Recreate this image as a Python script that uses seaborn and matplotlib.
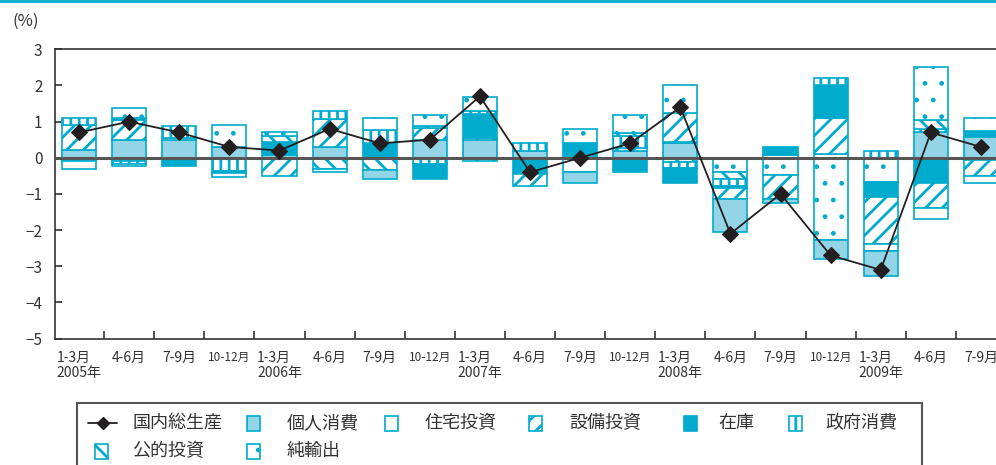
import numpy as np
import pandas as pd
import matplotlib
matplotlib.use("Agg")
import matplotlib.pyplot as plt
import seaborn as sns
from matplotlib.patches import Rectangle
from matplotlib.lines import Line2D

# ---------------- data ----------------
quarters = ["1-3月\n2005年", "4-6月", "7-9月", "10-12月",
            "1-3月\n2006年", "4-6月", "7-9月", "10-12月",
            "1-3月\n2007年", "4-6月", "7-9月", "10-12月",
            "1-3月\n2008年", "4-6月", "7-9月", "10-12月",
            "1-3月\n2009年", "4-6月", "7-9月"]

gdp = [0.7, 1.0, 0.7, 0.3, 0.2, 0.8, 0.4, 0.5, 1.7, -0.4,
       0.0, 0.4, 1.4, -2.1, -1.0, -2.7, -3.1, 0.7, 0.3]

kojin = [0.21, 0.49, 0.49, 0.29, 0.07, 0.30, -0.27, 0.49, 0.49, 0.20,
         -0.30, 0.19, 0.40, -0.91, -0.10, -0.52, -0.70, 0.72, 0.58]
jutaku = [-0.21, -0.06, 0.07, -0.11, 0.0, -0.10, 0.0, 0.0, 0.0, 0.0,
          -0.39, 0.0, 0.05, 0.0, 0.08, 0.10, -0.18, -0.30, -0.20]
setsubi = [0.69, 0.55, 0.0, 0.0, -0.50, 0.78, 0.0, 0.32, 0.07, -0.33,
           0.0, 0.08, 0.80, -0.30, -0.66, 0.99, -1.30, -0.69, -0.42]
zaiko = [0.0, 0.07, -0.22, -0.05, 0.37, 0.0, 0.42, -0.40, 0.65, -0.45,
         0.40, -0.40, -0.42, -0.06, 0.22, 0.92, -0.41, -0.71, 0.15]
seifu = [0.20, -0.08, 0.33, -0.36, 0.0, 0.20, 0.35, -0.18, 0.07, 0.20,
         0.0, 0.32, -0.15, -0.20, 0.0, 0.20, 0.20, 0.08, 0.0]
koteki = [-0.10, -0.08, 0.0, 0.0, 0.15, -0.30, -0.33, 0.08, -0.10, 0.0,
          0.0, 0.10, -0.12, -0.19, 0.0, 0.0, 0.0, 0.25, -0.07]
junyushutsu = [0.0, 0.28, 0.0, 0.62, 0.12, 0.0, 0.32, 0.30, 0.40, 0.0,
               0.40, 0.50, 0.75, -0.39, -0.48, -2.28, -0.68, 1.45, 0.38]

series_names = ["個人消費", "住宅投資", "設備投資", "在庫", "政府消費", "公的投資", "純輸出"]
series_values = [kojin, jutaku, setsubi, zaiko, seifu, koteki, junyushutsu]

# ---------------- style ----------------
CYAN = "#00ABCD"
LIGHT = "#93D5E7"
styles = {
    "個人消費": dict(facecolor=LIGHT, hatch=None),
    "住宅投資": dict(facecolor="white", hatch=None),
    "設備投資": dict(facecolor="white", hatch="//"),
    "在庫": dict(facecolor=CYAN, hatch=None),
    "政府消費": dict(facecolor="white", hatch="||"),
    "公的投資": dict(facecolor="white", hatch="\\\\"),
    "純輸出": dict(facecolor="white", hatch="."),
}
hatch_lw = {"純輸出": 1.0}

sns.set_theme(style="white")
plt.rcParams["font.family"] = ["Noto Sans CJK JP", "DejaVu Sans"]
plt.rcParams["hatch.linewidth"] = 2.0
plt.rcParams["hatch.color"] = CYAN
plt.rcParams["axes.unicode_minus"] = True


def set_hlw(artists, name):
    lw = hatch_lw.get(name, 2.0)
    for a in artists:
        if hasattr(a, "set_hatch_linewidth"):
            a.set_hatch_linewidth(lw)


fig = plt.figure(figsize=(9.96, 4.65), dpi=100)
ax = fig.add_axes([55 / 996, 1 - 338.6 / 465, (1006 - 55) / 996, (338.6 - 49.3) / 465])

df = pd.DataFrame({"pos": np.arange(len(quarters)), "label": quarters, "gdp": gdp})
for n, v in zip(series_names, series_values):
    df[n] = v

x = df["pos"].to_numpy(dtype=float)
width = 0.68

# positive stacking in series order
bottom = np.zeros(len(x))
for n in series_names:
    v = np.clip(df[n].to_numpy(), 0, None)
    m = v > 0
    with plt.rc_context({"hatch.linewidth": hatch_lw.get(n, 2.0)}):
        bars = ax.bar(x[m], v[m], width=width, bottom=bottom[m], edgecolor=CYAN,
                      linewidth=1.2, zorder=2, **styles[n])
    set_hlw(bars, n)
    bottom += v
# negative stacking in reverse series order
bottom = np.zeros(len(x))
for n in reversed(series_names):
    v = np.clip(df[n].to_numpy(), None, 0)
    m = v < 0
    with plt.rc_context({"hatch.linewidth": hatch_lw.get(n, 2.0)}):
        bars = ax.bar(x[m], v[m], width=width, bottom=bottom[m], edgecolor=CYAN,
                      linewidth=1.2, zorder=2, **styles[n])
    set_hlw(bars, n)
    bottom += v

ax.axhline(0, color="#555555", lw=2.2, zorder=3)

sns.lineplot(data=df, x="pos", y="gdp", ax=ax, color="#231F20", lw=1.3,
             marker="D", markersize=8, markeredgecolor="#231F20", zorder=5)

ax.set_xlim(-0.48, 18.5)
ax.set_ylim(-5, 3)
ax.set_xlabel("")
ax.set_ylabel("")

ax.set_xticks(x)
ax.set_xticklabels(quarters, fontsize=10, color="#333333", linespacing=1.05)
for t in ax.get_xticklabels():
    t.set_multialignment("left")
    if t.get_text().startswith("10-12"):
        t.set_fontsize(8.5)
ax.set_xticks(np.arange(0.5, 18.5, 1), minor=True)
ax.tick_params(axis="x", which="major", length=0, pad=9)
ax.tick_params(axis="x", which="minor", direction="in", length=6, width=1.2,
               color="#333333", bottom=True)

yt = list(range(-5, 4))
ax.set_yticks(yt)
ax.set_yticklabels([("−" + str(-v)) if v < 0 else str(v) for v in yt],
                   fontsize=11, color="#333333")
ax.tick_params(axis="y", direction="in", length=5, width=1.2, color="#333333",
               left=True, pad=9)

for s in ["left", "bottom", "top", "right"]:
    ax.spines[s].set_color("#333333")
    ax.spines[s].set_linewidth(1.2)

# unit label and top rule
fig.text(13 / 996, 1 - 21 / 465, "(%)", fontsize=12, color="#333333", va="center")
fig.add_artist(Line2D([0, 1], [1 - 1 / 465, 1 - 1 / 465], transform=fig.transFigure,
                      color=CYAN, lw=2))

# ---------------- legend (drawn manually) ----------------
W, H = 996.0, 465.0
fig.add_artist(Rectangle((77 / W, -0.05), (922 - 77) / W, (1 - 403 / H) + 0.05,
                         transform=fig.transFigure, facecolor="none",
                         edgecolor="#555555", lw=1.5))


def px(xp, yp):
    return xp / W, 1 - yp / H


y1, y2 = 423, 451
fig.add_artist(Line2D([88 / W, 117 / W], [1 - y1 / H] * 2, transform=fig.transFigure,
                      color="#231F20", lw=1.3))
fig.add_artist(Line2D([102.5 / W], [1 - y1 / H], transform=fig.transFigure,
                      color="#231F20", marker="D", markersize=6))
fig.text(*px(132, y1), "国内総生産", fontsize=13, va="center", color="#333333")

entries = [("個人消費", 253, y1, 287), ("住宅投資", 391, y1, 425),
           ("設備投資", 535, y1, 569), ("在庫", 690, y1, 718),
           ("政府消費", 795, y1, 825), ("公的投資", 101, y2, 132),
           ("純輸出", 253, y2, 287)]
hw, hh = 13, 15
for name, cx, cy, tx in entries:
    x0, y0 = px(cx - hw / 2, cy + hh / 2)
    with plt.rc_context({"hatch.linewidth": hatch_lw.get(name, 2.0)}):
        r = Rectangle((x0, y0), hw / W, hh / H, transform=fig.transFigure,
                      edgecolor=CYAN, lw=1.2, **styles[name])
    set_hlw([r], name)
    fig.add_artist(r)
    fig.text(*px(tx, cy), name, fontsize=13, va="center", color="#333333")

fig.savefig("out.png", dpi=100)
